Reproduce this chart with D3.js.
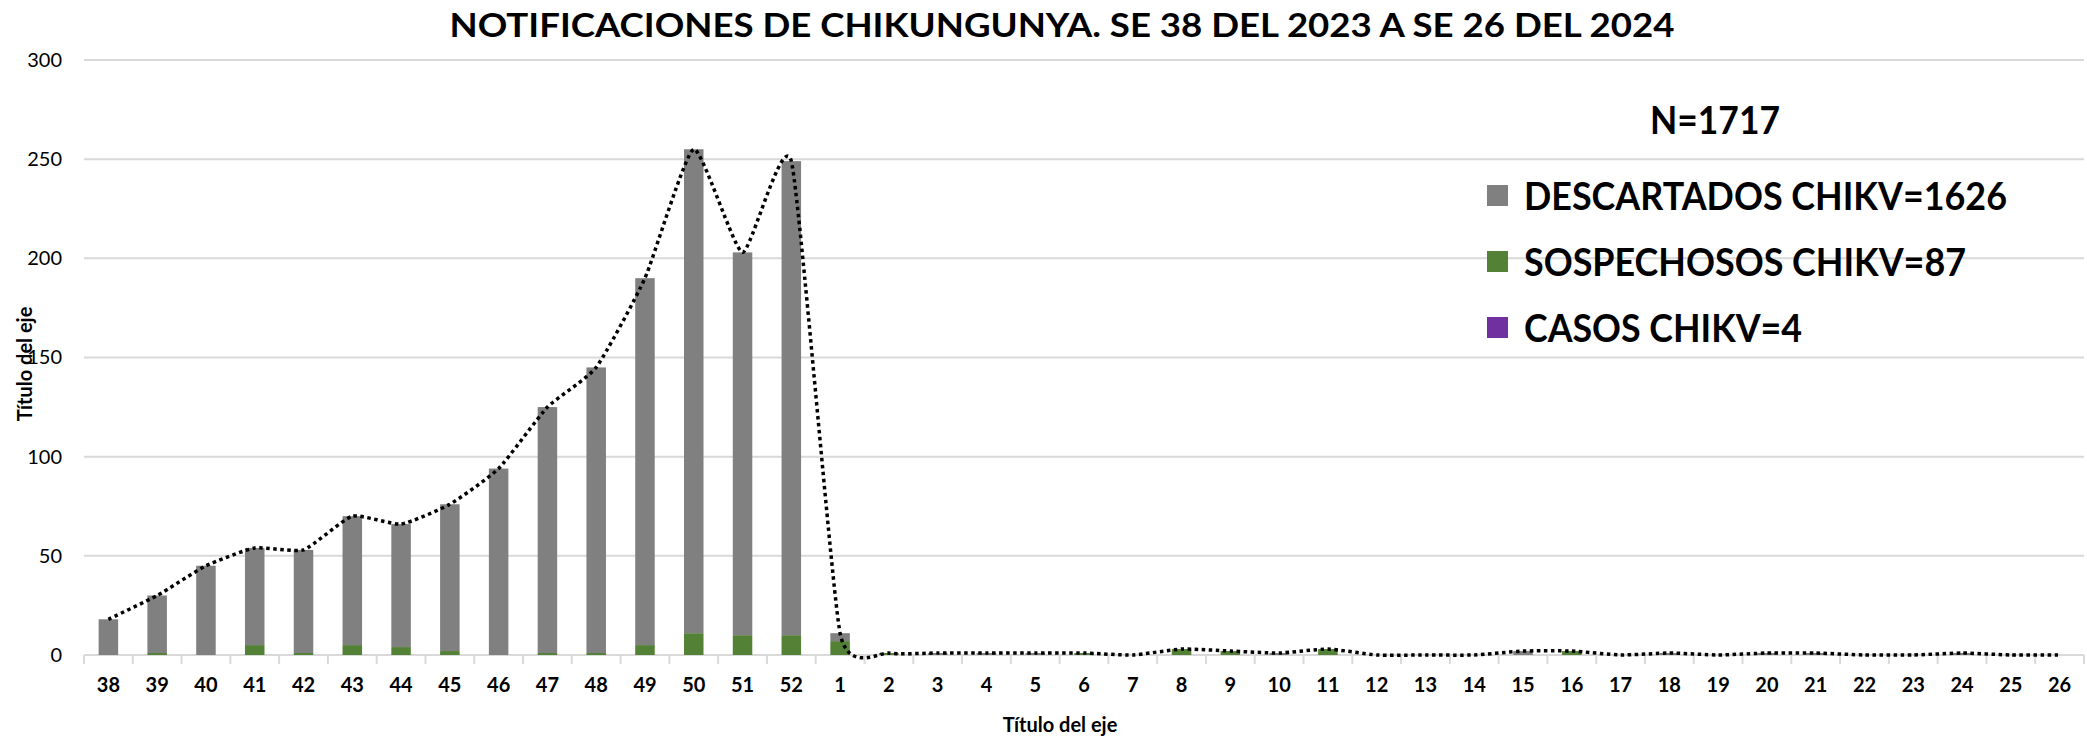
<!DOCTYPE html>
<html>
<head>
<meta charset="utf-8">
<script src="https://d3js.org/d3.v7.min.js"></script>
<style>
  body { margin: 0; background: #fff; }
  svg { display: block; font-family: Lato, "Open Sans", sans-serif; }
</style>
</head>
<body>
<svg id="chart" width="2087" height="738"></svg>
<script>
// Semanas epidemiológicas (SE 38/2023 a SE 26/2024)
const weeks = ['38','39','40','41','42','43','44','45','46','47','48','49','50','51','52',
  '1','2','3','4','5','6','7','8','9','10','11','12','13','14','15','16','17','18','19','20','21','22','23','24','25','26'];

// Valores
const descartados = [18,29,45,49,52,65,62,74,94,124,144,185,244,193,239,
  4,0,1,1,1,0,0,0,0,1,0,0,0,0,2,0,0,1,0,1,1,0,0,1,0,0];
const sospechosos = [0,1,0,5,1,5,4,2,0,1,1,5,11,10,10,
  7,1,0,0,0,1,0,3,2,0,3,0,0,0,0,2,0,0,0,0,0,0,0,0,0,0];
const casos = [0,0,0,0,0,0,0,0,0,0,0,0,0,0,0,
  0,0,0,0,0,0,0,0,0,0,0,0,0,0,0,0,0,0,0,0,0,0,0,0,0,0];

const yTicks = [0, 50, 100, 150, 200, 250, 300];
const seriesKeys = ['casos', 'sospechosos', 'descartados'];
const seriesColors = { descartados: '#808080', sospechosos: '#538135', casos: '#7030a0' };
const legendLabels = [
  { key: 'descartados', text: 'DESCARTADOS CHIKV=1626', len: 483 },
  { key: 'sospechosos', text: 'SOSPECHOSOS CHIKV=87', len: 442 },
  { key: 'casos', text: 'CASOS CHIKV=4', len: 278 }
];

const svg = d3.select('#chart');
const plotLeft = 84, plotRight = 2084, plotTop = 60, plotBottom = 655;

const x = d3.scaleBand().domain(weeks).range([plotLeft, plotRight]).paddingInner(0.6).paddingOuter(0.3);
const y = d3.scaleLinear().domain([0, 300]).range([plotBottom, plotTop]);

// table for stacking
const table = weeks.map((w, i) => ({
  week: w, casos: casos[i], sospechosos: sospechosos[i], descartados: descartados[i]
}));
const stacked = d3.stack().keys(seriesKeys)(table);

// gridlines
svg.append('g')
  .selectAll('line')
  .data(yTicks)
  .enter().append('line')
  .attr('x1', plotLeft).attr('x2', plotRight)
  .attr('y1', d => y(d)).attr('y2', d => y(d))
  .attr('stroke', '#d9d9d9')
  .attr('stroke-width', 2);

// y axis labels
const yAxis = svg.append('g')
  .attr('transform', `translate(62,0)`)
  .call(d3.axisLeft(y).tickValues(yTicks).tickSize(0).tickPadding(0));
yAxis.select('.domain').remove();
yAxis.selectAll('text')
  .attr('font-size', 20)
  .attr('font-family', 'Lato, sans-serif')
  .attr('fill', '#000');

// category boundary ticks
const step = x.step();
const boundaries = d3.range(weeks.length + 1).map(i => plotLeft + i * step);
svg.append('g')
  .selectAll('line')
  .data(boundaries)
  .enter().append('line')
  .attr('x1', d => d).attr('x2', d => d)
  .attr('y1', plotBottom).attr('y2', plotBottom + 9)
  .attr('stroke', '#d9d9d9')
  .attr('stroke-width', 2);

// bars
svg.append('g')
  .selectAll('g')
  .data(stacked)
  .enter().append('g')
  .attr('fill', d => seriesColors[d.key])
  .selectAll('rect')
  .data(d => d)
  .enter().append('rect')
  .attr('x', d => x(d.data.week))
  .attr('width', x.bandwidth())
  .attr('y', d => y(d[1]))
  .attr('height', d => y(d[0]) - y(d[1]));

// x axis labels
const xAxis = svg.append('g')
  .attr('transform', `translate(0,${plotBottom})`)
  .call(d3.axisBottom(x).tickSize(0).tickPadding(23));
xAxis.select('.domain').remove();
xAxis.selectAll('text')
  .attr('font-size', 20)
  .attr('font-weight', 'bold')
  .attr('font-family', 'Lato, sans-serif')
  .attr('fill', '#000');

// smoothed dotted total line
const totals = stacked[stacked.length - 1];
const line = d3.line()
  .x(d => x(d.data.week) + x.bandwidth() / 2)
  .y(d => y(d[1]))
  .curve(d3.curveCardinal.tension(0.5));
svg.append('path')
  .datum(totals)
  .attr('d', line)
  .attr('fill', 'none')
  .attr('stroke', '#000')
  .attr('stroke-width', 3.5)
  .attr('stroke-dasharray', '3.5,3.5');

// title
svg.append('text')
  .attr('x', 1062).attr('y', 37)
  .attr('text-anchor', 'middle')
  .attr('font-size', 33)
  .attr('font-weight', 'bold')
  .attr('textLength', 1225)
  .attr('lengthAdjust', 'spacingAndGlyphs')
  .text('NOTIFICACIONES DE CHIKUNGUNYA. SE 38 DEL 2023 A SE 26 DEL 2024');

// axis titles
svg.append('text')
  .attr('x', 1060).attr('y', 732)
  .attr('text-anchor', 'middle')
  .attr('font-size', 20)
  .attr('font-weight', 'bold')
  .text('Título del eje');

svg.append('text')
  .attr('transform', 'translate(32,364) rotate(-90)')
  .attr('text-anchor', 'middle')
  .attr('font-size', 20)
  .attr('font-weight', 'bold')
  .text('Título del eje');

// legend
svg.append('text')
  .attr('x', 1715).attr('y', 134)
  .attr('text-anchor', 'middle')
  .attr('font-size', 39)
  .attr('font-weight', 'bold')
  .attr('textLength', 130)
  .attr('lengthAdjust', 'spacingAndGlyphs')
  .text('N=1717');

const legend = svg.append('g')
  .selectAll('g')
  .data(legendLabels)
  .enter().append('g')
  .attr('transform', (d, i) => `translate(1487,${210 + i * 66})`);
legend.append('rect')
  .attr('x', 0).attr('y', -25)
  .attr('width', 21).attr('height', 21)
  .attr('fill', d => seriesColors[d.key]);
legend.append('text')
  .attr('x', 37).attr('y', 0)
  .attr('font-size', 39)
  .attr('font-weight', 'bold')
  .attr('textLength', d => d.len)
  .attr('lengthAdjust', 'spacingAndGlyphs')
  .text(d => d.text);
</script>
</body>
</html>
